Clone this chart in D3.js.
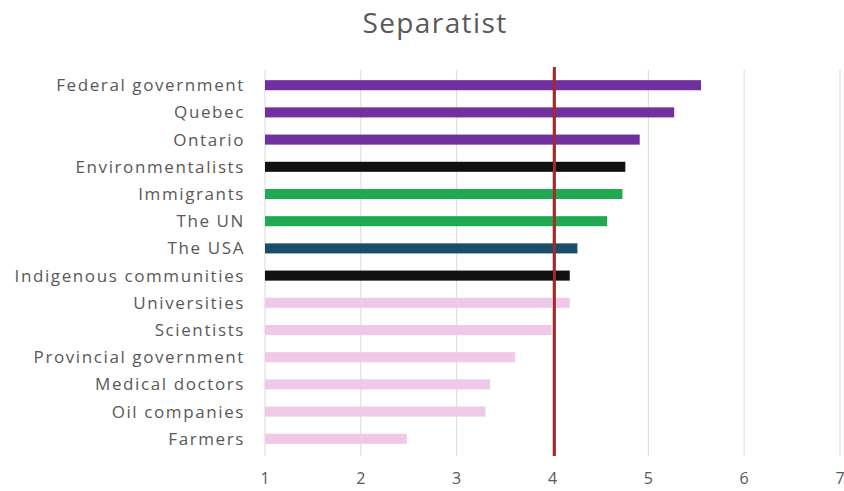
<!DOCTYPE html>
<html>
<head>
<meta charset="utf-8">
<script src="https://cdn.jsdelivr.net/npm/d3@7"></script>
<style>
  body { margin: 0; background: #fff; }
  text { font-family: "Open Sans", "Noto Sans", sans-serif; }
</style>
</head>
<body>
<div id="chart"></div>
<script>
const categories = ["Federal government", "Quebec", "Ontario", "Environmentalists", "Immigrants",
  "The UN", "The USA", "Indigenous communities", "Universities", "Scientists",
  "Provincial government", "Medical doctors", "Oil companies", "Farmers"];
const values = [5.55, 5.27, 4.91, 4.76, 4.73, 4.57, 4.26, 4.18, 4.18, 3.99, 3.61, 3.35, 3.30, 2.48];
const groups = ["gov", "gov", "gov", "black", "green", "green", "teal", "black",
  "pink", "pink", "pink", "pink", "pink", "pink"];
const xTicks = [1, 2, 3, 4, 5, 6, 7];
const refValue = 4.02;

const width = 844, height = 491;
const margin = {top: 72, right: 4, bottom: 39, left: 265};

const color = d3.scaleOrdinal()
    .domain(["gov", "black", "green", "teal", "pink"])
    .range(["#7030a0", "#111111", "#21a852", "#1a4e68", "#efc9e7"]);

const svg = d3.select("#chart").append("svg")
    .attr("width", width)
    .attr("height", height);

const x = d3.scaleLinear().domain([1, 7]).range([margin.left, 840]);
const y = d3.scaleBand().domain(categories)
    .range([margin.top, height - margin.bottom])
    .paddingInner(0.63).paddingOuter(0.3);

// gridlines
svg.append("g")
  .selectAll("line")
  .data(xTicks.slice(1))
  .join("line")
    .attr("x1", d => x(d)).attr("x2", d => x(d))
    .attr("y1", 70).attr("y2", 456)
    .attr("stroke", "#d9d9d9")
    .attr("stroke-width", 1);

// left axis line
svg.append("line")
    .attr("x1", x(1)).attr("x2", x(1))
    .attr("y1", 70).attr("y2", 456)
    .attr("stroke", "#d9d9d9");

// bars
svg.append("g")
  .selectAll("rect")
  .data(categories)
  .join("rect")
    .attr("x", x(1))
    .attr("y", (d, i) => y(d))
    .attr("width", (d, i) => x(values[i]) - x(1))
    .attr("height", y.bandwidth())
    .attr("fill", (d, i) => color(groups[i]));

// category labels
svg.append("g")
  .selectAll("text")
  .data(categories)
  .join("text")
    .attr("x", 245)
    .attr("y", d => y(d) + y.bandwidth() / 2)
    .attr("dy", "0.35em")
    .attr("text-anchor", "end")
    .attr("fill", "#595959")
    .attr("font-size", 17)
    .attr("letter-spacing", 1.6)
    .text(d => d);

// x tick labels
svg.append("g")
  .selectAll("text")
  .data(xTicks)
  .join("text")
    .attr("x", d => x(d))
    .attr("y", 478)
    .attr("dy", "0.35em")
    .attr("text-anchor", "middle")
    .attr("fill", "#595959")
    .attr("font-size", 16)
    .text(d => d);

// reference line
svg.append("line")
    .attr("x1", x(refValue)).attr("x2", x(refValue))
    .attr("y1", 67).attr("y2", 456)
    .attr("stroke", "#a52a2a")
    .attr("stroke-width", 3);

// title
svg.append("text")
    .attr("x", 435)
    .attr("y", 23)
    .attr("dy", "0.35em")
    .attr("text-anchor", "middle")
    .attr("fill", "#595959")
    .attr("font-size", 28)
    .attr("letter-spacing", 1.4)
    .text("Separatist");
</script>
</body>
</html>
